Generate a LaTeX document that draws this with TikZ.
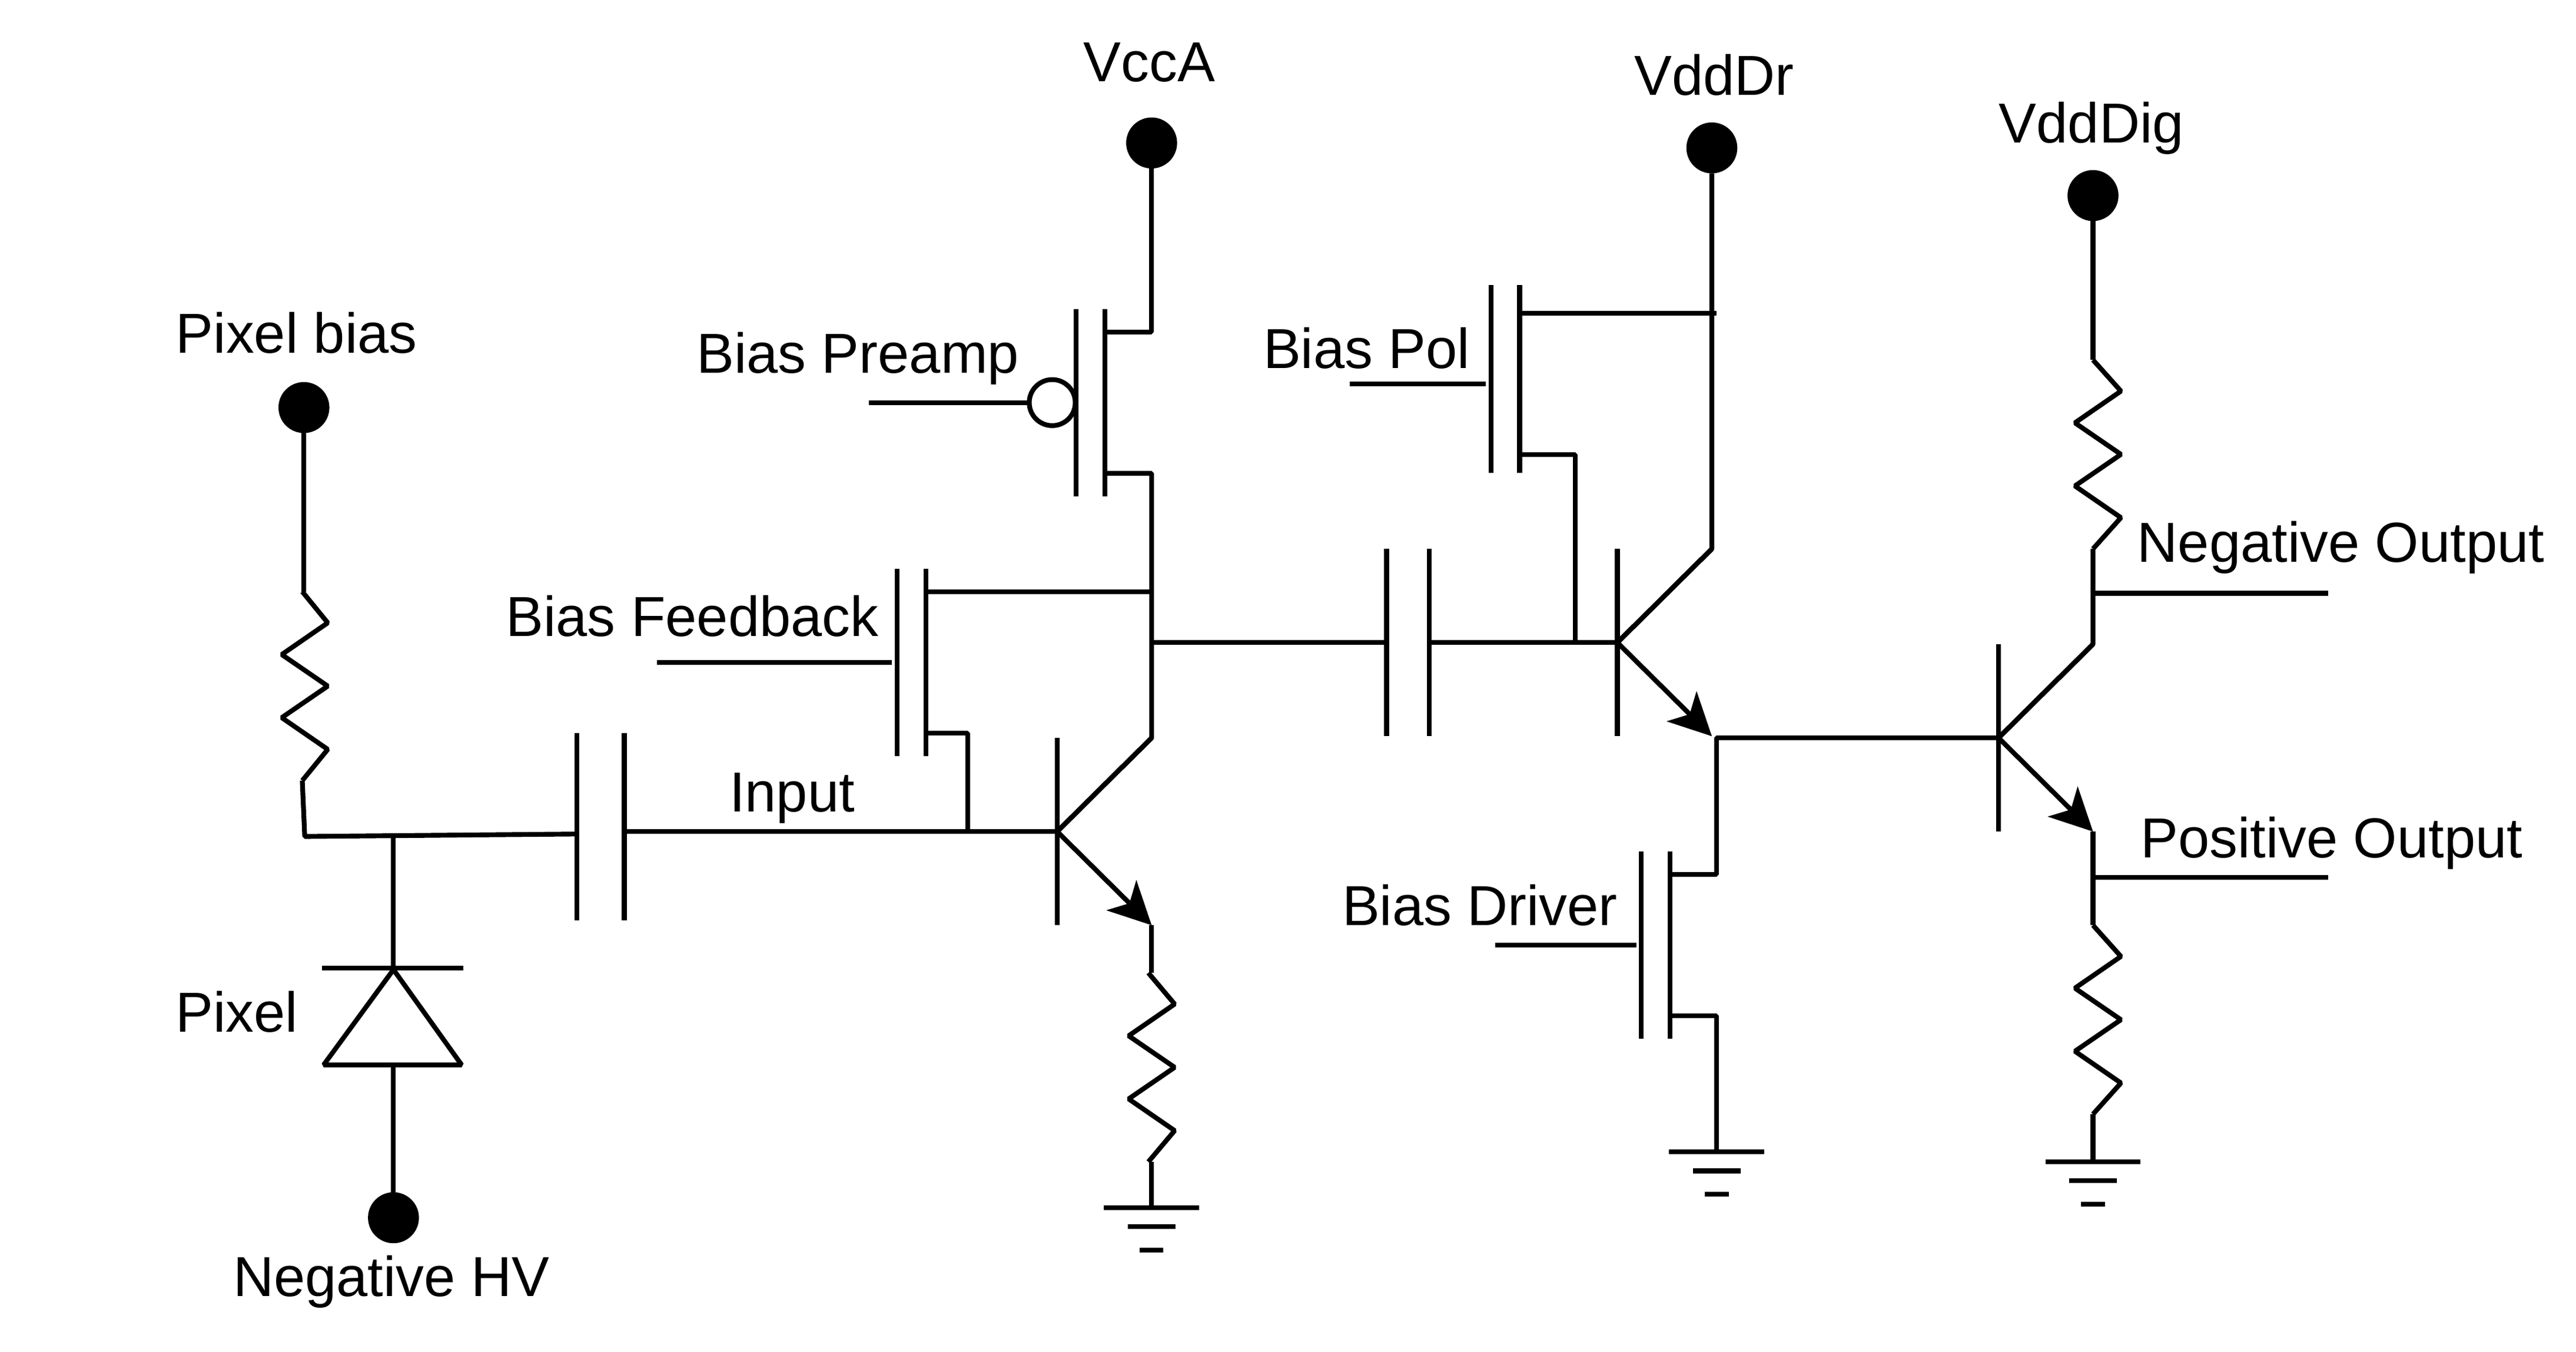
\documentclass[tikz,border=0pt]{standalone}
\usepackage{fontspec}
\setmainfont{Liberation Sans}
\usetikzlibrary{positioning,arrows.meta}

\begin{document}
\begin{tikzpicture}[x=0.01cm, y=-0.01cm, line width=0.83pt, line join=bevel,
        wire/.style={draw},
        lbl/.style={inner sep=0pt, outer sep=0pt, anchor=base west, text depth=0pt, font=\fontsize{9.75pt}{12pt}\selectfont},
        terminal/.style={circle, fill=black, inner sep=0pt, outer sep=0pt, minimum size=0.31cm},
        bubble/.style={circle, draw, fill=white, inner sep=0pt, outer sep=0pt, minimum size=0.28cm},
        pics/npn/.style={code={
            \draw (0,-57) -- (0,57);
            \draw (0,0) -- (57.5,-57);
            \draw[-{Stealth[length=0.26cm,width=0.26cm,inset=0.07cm,line width=0pt]}] (0,0) -- (57.5,57);
            \coordinate (-b) at (0,0);
            \coordinate (-c) at (57.5,-57);
            \coordinate (-e) at (57.5,57);
        }},
        pics/mos/.style={code={
            \draw (0,-57) -- (0,57);
            \draw (17.5,-57) -- (17.5,57);
            \coordinate (-g) at (-3,0);
            \coordinate (-u) at (17.5,-43);
            \coordinate (-l) at (17.5,43);
        }},
        pics/cap/.style={code={
            \draw (0,-57) -- (0,57);
            \draw (#1,-57) -- (#1,57);
            \coordinate (-a) at (0,0);
            \coordinate (-k) at (#1,0);
        }},
        pics/res/.style={code={
            \draw (0,0) -- (#1,19) -- (#1-28,38.3) -- (#1,57.5) -- (#1-28,76.7) -- (#1,96) -- (0,115);
            \coordinate (-t) at (0,0);
            \coordinate (-o) at (0,115);
        }},
        pics/gnd/.style={code={
            \draw (-29,0) -- (29,0);
            \draw (-14.5,11.5) -- (14.5,11.5);
            \draw (-7.2,25.7) -- (7.2,25.7);
            \coordinate (-t) at (0,0);
        }}]
        \useasboundingbox (0,0) rectangle (1568,822.7);

        \node [terminal] (vcca) at (701,87) {};
        \node [terminal] (vdddr) at (1042,90) {};
        \node [terminal] (vdddig) at (1274,119) {};
        \node [terminal] (pixbias) at (185,248) {};
        \node [terminal] (neghv) at (239.5,741) {};

        \node [lbl, above=0.22cm of vcca, xshift=-0.015cm] (vccalbl) {VccA};
        \node [lbl, above=0.165cm of vdddr, xshift=0.015cm] (vdddrlbl) {VddDr};
        \node [lbl, above=0.165cm of vdddig, xshift=-0.01cm] (vdddiglbl) {VddDig};
        \node [lbl, above=0.175cm of pixbias, xshift=-0.045cm] (pixbiaslbl) {Pixel bias};
        \node [lbl] (neghvlbl) at (142,789) {Negative HV};
        \node [lbl] (pixlbl) at (107,628) {Pixel};
        \node [lbl] (inlbl) at (444,494) {Input};
        \node [lbl] (fblbl) at (308,387) {Bias Feedback};
        \node [lbl] (prelbl) at (424,227) {Bias Preamp};
        \node [lbl] (pollbl) at (769,224) {Bias Pol};
        \node [lbl] (drvlbl) at (817,563) {Bias Driver};
        \node [lbl] (negoutlbl) at (1301,342) {Negative Output};
        \node [lbl] (posoutlbl) at (1303,522) {Positive Output};

        \pic (qin) at (643.5,506) {npn};
        \pic (qdr) at (984.5,391) {npn};
        \pic (qout) at (1216.5,449) {npn};

        \pic (mpre) at (655,245) {mos};
        \pic (mfb) at (546,403) {mos};
        \pic (mpol) at (907.5,230.6) {mos};
        \pic (mdrv) at (999,575) {mos};

        \pic (cin) at (351,503) {cap=29};
        \pic (cdr) at (844,391) {cap=26};

        \pic (rbias) at (184,360) {res=15.5};
        \pic (rin) at (699,592) {res=16};
        \pic (rdig) at (1274,219) {res=17};
        \pic (rpos) at (1274,563) {res=17};

        \pic (gin) at (701,735) {gnd};
        \pic (gdrv) at (1045,701) {gnd};
        \pic (gpos) at (1274,707) {gnd};

        % pixel and input stage
        \coordinate (sense) at (185.5,509);
        \coordinate (cinleft) at (351,507.5);
        \coordinate (dtop) at (239.5,507);
        \coordinate (dapex) at (239.5,590);
        \coordinate (dbase) at (239.5,648);
        \path [wire] (pixbias) -- (pixbias |- rbias-t);
        \path [wire] (rbias-o) -- (sense) -- (cinleft);
        \path [wire] (dtop) -- (dapex);
        \draw (196,589) -- (282,589);
        \draw (dapex) -- (197,648) -- (281,648) -- cycle;
        \path [wire] (dbase) -- (neghv);
        \path [wire] (cin-k |- qin-b) -- (qin-b);

        % preamp
        \coordinate (prein) at (529,245);
        \coordinate (fbin) at (400,403);
        \coordinate (fbtap) at (589,506);
        \coordinate (outnode) at (701,391);
        \coordinate (inem) at (701,592);
        \node [bubble] (prebub) at (640.5,245) {};
        \path [wire] (prein) -- (prebub);
        \path [wire] (fbin) -- (fbin -| mfb-g);
        \path [wire] (vcca) -- (vcca |- mpre-u) -- (mpre-u);
        \path [wire] (mpre-l) -- (vcca |- mpre-l) -- (qin-c) -- (qin-b);
        \path [wire] (mfb-u) -- (vcca |- mfb-u);
        \path [wire] (mfb-l) -- (fbtap |- mfb-l) -- (fbtap);
        \path [wire] (qin-e) -- (inem);
        \path [wire] (gin-t |- rin-o) -- (gin-t);
        \path [wire] (outnode) -- (cdr-a);

        % driver
        \coordinate (polin) at (821.5,233.5);
        \coordinate (polhi) at (925,190.5);
        \coordinate (pollo) at (925,276.6);
        \coordinate (polend) at (1045,190.5);
        \coordinate (drvin) at (910,575);
        \coordinate (poltap) at (959,391);
        \coordinate (drvtop) at (1045,449);
        \path [wire] (cdr-k) -- (qdr-b);
        \path [wire] (polin) -- (polin -| mpol-g);
        \path [wire] (drvin) -- (drvin -| mdrv-g);
        \path [wire] (vdddr) -- (qdr-c) -- (qdr-b);
        \path [wire] (polhi) -- (polend);
        \path [wire] (pollo) -- (poltap |- pollo) -- (poltap);
        \path [wire] (mdrv-u) -- (drvtop |- mdrv-u) -- (drvtop) -- (qout-b);
        \path [wire] (mdrv-l) -- (drvtop |- mdrv-l) -- (gdrv-t);

        % output
        \coordinate (negtap) at (1274,361);
        \coordinate (negend) at (1417,361);
        \coordinate (postap) at (1274,534);
        \coordinate (posend) at (1417,534);
        \path [wire] (vdddig) -- (rdig-t);
        \path [wire] (rdig-o) -- (qout-c) -- (qout-b);
        \path [wire] (qout-e) -- (rpos-t);
        \path [wire] (rpos-o) -- (gpos-t);
        \path [wire] (negtap) -- (negend);
        \path [wire] (postap) -- (posend);
    \end{tikzpicture}
\end{document}
